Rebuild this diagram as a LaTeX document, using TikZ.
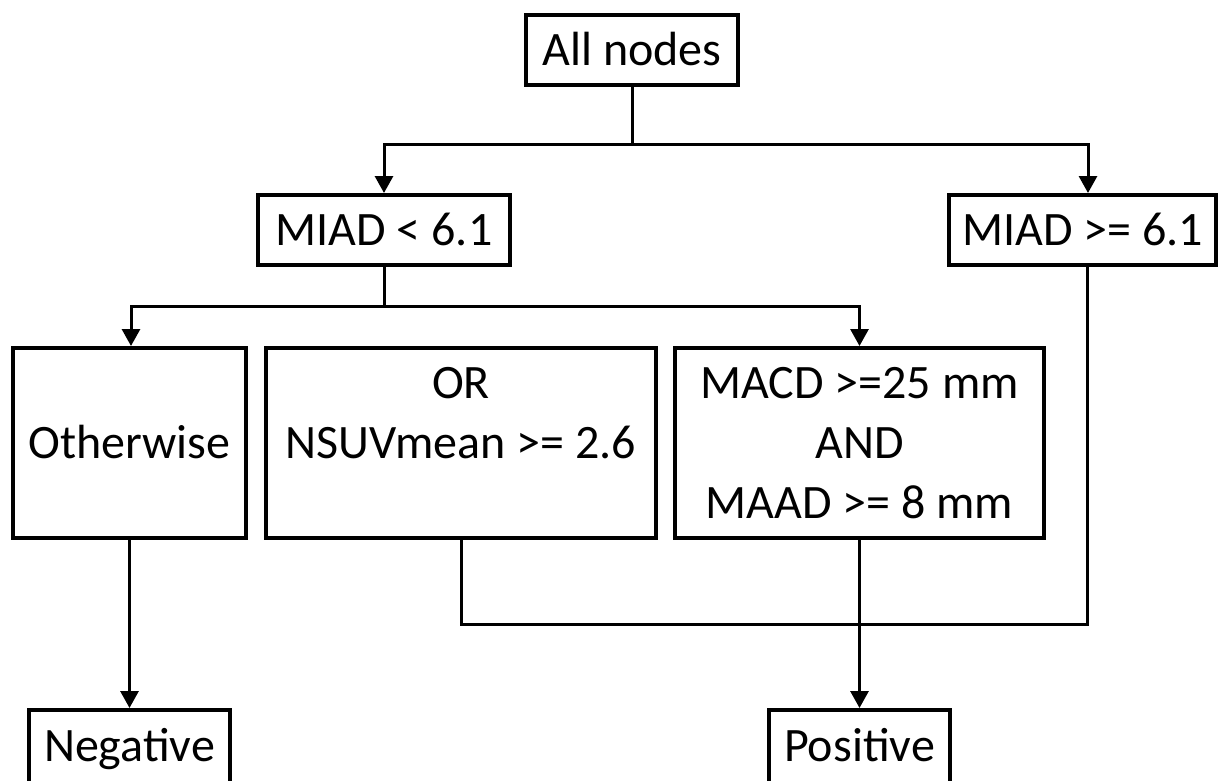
\documentclass[tikz,border=0pt]{standalone}
\usepackage{fontspec}
\setmainfont{Carlito}
\usetikzlibrary{arrows.meta}
\begin{document}
\begin{tikzpicture}[x=1pt,y=-1pt,
  font=\fontsize{48}{60}\selectfont,
  box/.style={draw, line width=4pt, inner sep=0pt},
  oneline/.style={box, text height=30pt, text depth=0pt, minimum height=70pt},
  tall/.style={box, minimum height=190pt, text height=45pt, text depth=135pt},
  leaf/.style={box, anchor=north, text height=51pt, text depth=110pt},
  conn/.style={line width=3pt},
  arr/.style={conn, -{Triangle[width=18pt,length=17pt]}}]
  \useasboundingbox (0,0) rectangle (1219,780);
  \fill[white] (0,0) rectangle (1219,780);
  \clip (0,0) rectangle (1219,780);

  % decision nodes
  \node[oneline, minimum width=212pt] (all) at (632,50) {All nodes};
  \node[oneline, minimum width=252pt] (lt) at (384,230) {MIAD < 6.1};
  \node[oneline, minimum width=267pt] (ge) at (1082.5,230) {MIAD >= 6.1};
  \node[oneline, minimum width=233pt, minimum height=190pt] (ow) at (129.5,443) {Otherwise};
  \node[tall, minimum width=390pt] (ns) at (461,443)
    {\begin{tabular}[t]{@{}c@{}}OR\\NSUVmean >= 2.6\\ \end{tabular}};
  \node[tall, minimum width=369pt] (mc) at (859.5,443)
    {\begin{tabular}[t]{@{}c@{}}MACD >=25 mm\\AND\\MAAD >= 8 mm\end{tabular}};

  % outcomes
  \node[leaf, minimum width=201pt] (neg) at (129.5,708) {Negative};
  \node[leaf, minimum width=181pt] (pos) at (859.5,708) {Positive};

  % junction points
  \coordinate (j1) at (632,144);
  \coordinate (j2) at (384,306);
  \coordinate (geout) at ([xshift=5pt]ge.south);
  \coordinate (gein) at ([xshift=5.5pt]ge.north);

  % first split
  \draw[conn] (all.south) -- (j1);
  \draw[arr] (j1) -| (lt.north);
  \draw[arr] (j1) -| (gein);

  % second split
  \draw[conn] (lt.south) -- (j2);
  \draw[arr] (j2) -| ([xshift=1.5pt]ow.north);
  \draw[arr] (j2) -| (mc.north);

  % outcomes
  \draw[arr] (ow.south) -- (neg.north);
  \draw[conn] (ns.south) -- ++(0,84) -| (geout);
  \draw[arr] (mc.south) -- (pos.north);
\end{tikzpicture}
\end{document}
